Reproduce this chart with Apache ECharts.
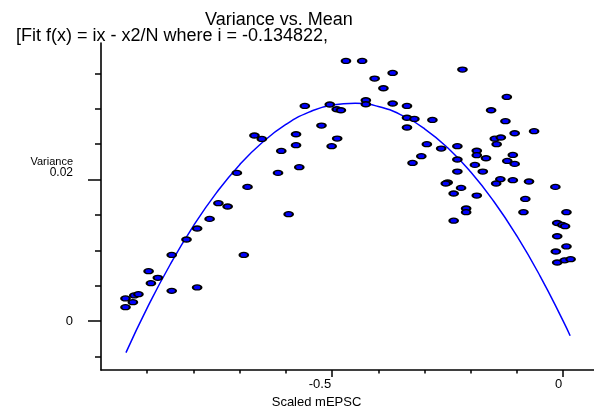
<!DOCTYPE html>
<html><head><meta charset="utf-8">
<script src="https://cdn.jsdelivr.net/npm/echarts@6/dist/echarts.min.js"></script>
<style>html,body{margin:0;padding:0;background:#fff}#c{width:594px;height:414px}</style>
</head><body><div id="c"></div>
<script>
const titleText = 'Variance vs. Mean';
const subtitleText = '[Fit f(x) = ix - x2/N where i = -0.134822,';
const xAxisName = 'Scaled mEPSC';
const yAxisName = 'Variance';

const meanValues = [
 -0.947, -0.928, -0.919, -0.931, -0.947, -0.897, -0.877, -0.892, -0.847, -0.847, -0.792, -0.815, -0.792, -0.765, -0.746, -0.726, -0.691, -0.683, -0.706, -0.617, -0.594,
 -0.668, -0.652, -0.610, -0.578, -0.578, -0.571, -0.559, -0.523, -0.505, -0.490, -0.481, -0.489, -0.501, -0.470, -0.435, -0.408, -0.389, -0.369, -0.427, -0.427, -0.369,
 -0.338, -0.338, -0.322, -0.283, -0.338, -0.218, -0.122, -0.156, -0.125, -0.105, -0.063, -0.148, -0.135, -0.144,
 -0.295, -0.264, -0.229, -0.307, -0.326, -0.229, -0.187, -0.187, -0.167, -0.109, -0.121, -0.105, -0.191,
 -0.229, -0.174, -0.136, -0.145, -0.109, -0.074, -0.017, -0.250, -0.254, -0.221, -0.237, -0.187, -0.082, -0.210, -0.210, -0.086, 0.007, -0.237,
 -0.013, -0.002, 0.004, -0.013, 0.007, -0.016, -0.013, 0.003, 0.016
];
const varianceValues = [
 0.00321, 0.00363, 0.00381, 0.00268, 0.00198, 0.00706, 0.00612, 0.00537, 0.00936, 0.00428, 0.00476, 0.01154, 0.01309, 0.01445, 0.01667, 0.0162, 0.00936, 0.01897, 0.02095, 0.02095, 0.01511,
 0.02623, 0.02575, 0.02405, 0.02641, 0.02486, 0.02175, 0.03041, 0.02764, 0.03061, 0.02994, 0.0298, 0.0258, 0.02472, 0.03677, 0.03677, 0.03428, 0.03291, 0.03507, 0.03121, 0.03065, 0.03075,
 0.03041, 0.02874, 0.02857, 0.02843, 0.02736, 0.03555, 0.03168, 0.0298, 0.02825, 0.02655, 0.02684, 0.02578, 0.02595, 0.025,
 0.025, 0.02439, 0.02472, 0.02331, 0.02236, 0.02284, 0.02408, 0.02345, 0.02302, 0.02349, 0.02264, 0.02222, 0.02208,
 0.02114, 0.02114, 0.02006, 0.01945, 0.01992, 0.01973, 0.01897, 0.01959, 0.01945, 0.01883, 0.01804, 0.01775, 0.01727, 0.01592, 0.0154, 0.0154, 0.0154, 0.0142,
 0.01387, 0.0136, 0.01342, 0.012, 0.01056, 0.00984, 0.00829, 0.00859, 0.00876
];

const fitMean = [-0.946, -0.9, -0.85, -0.8, -0.75, -0.7, -0.65, -0.6, -0.55, -0.5, -0.45, -0.4, -0.35, -0.3, -0.25, -0.2, -0.15, -0.1, -0.05, 0, 0.015];
const fitVariance = [-0.00445, 0.00187, 0.00804, 0.01346, 0.01816, 0.02211, 0.02531, 0.02779, 0.02953, 0.03054, 0.0308, 0.03033, 0.02912, 0.02718, 0.02449, 0.02106, 0.0169, 0.01201, 0.00637, 0, -0.00206];

const xMinorTicks = [-0.9, -0.8, -0.7, -0.6, -0.4, -0.3, -0.2, -0.1];
const xMajorTicks = [-0.5, 0];
const yMinorTicks = [-0.005, 0.005, 0.01, 0.015, 0.025, 0.03, 0.035];
const yZeroTick = [0];
const yLabelledTick = [0.02];

const FONT = '"Liberation Sans", Arial, sans-serif';
const X_MIN = -1.0, X_MAX = 0.0666, Y_MIN = -0.0069, Y_MAX = 0.0393;
const black = '#000';

const chart = echarts.init(document.getElementById('c'), null, {renderer: 'canvas'});

function xAxisBase(extra) {
  return Object.assign({
    type: 'value', position: 'bottom', min: X_MIN, max: X_MAX,
    splitLine: {show: false}, axisLine: {show: false, onZero: false},
    axisTick: {show: false}, axisLabel: {show: false}
  }, extra);
}
function yAxisBase(extra) {
  return Object.assign({
    type: 'value', position: 'left', min: Y_MIN, max: Y_MAX,
    splitLine: {show: false}, axisLine: {show: false, onZero: false},
    axisTick: {show: false}, axisLabel: {show: false}
  }, extra);
}

chart.setOption({
  animation: false,
  backgroundColor: '#fff',
  textStyle: {fontFamily: FONT},
  title: [
    {text: titleText, left: 205, top: 11, padding: 0,
     textStyle: {fontFamily: FONT, fontSize: 18, fontWeight: 'normal', color: black}},
    {text: subtitleText, left: 16, top: 27, padding: 0,
     textStyle: {fontFamily: FONT, fontSize: 18, fontWeight: 'normal', color: black}}
  ],
  grid: {left: 101, right: 0, top: 43, bottom: 44, containLabel: false},
  xAxis: [
    xAxisBase({
      axisLine: {show: true, onZero: false, lineStyle: {color: black, width: 1.6}},
      axisTick: {show: true, customValues: xMinorTicks, length: 3.5, lineStyle: {color: black, width: 1.5}}
    }),
    xAxisBase({
      axisTick: {show: true, customValues: xMajorTicks, length: 7, lineStyle: {color: black, width: 1.5}},
      axisLabel: {show: true, customValues: xMajorTicks, align: 'right', margin: 8, padding: [0, 1, 0, 0],
                  fontFamily: FONT, fontSize: 13, color: black},
      name: xAxisName, nameLocation: 'middle', nameGap: 24,
      nameTextStyle: {fontFamily: FONT, fontSize: 13, color: black, padding: [0, 62, 0, 0]}
    })
  ],
  yAxis: [
    yAxisBase({
      axisLine: {show: true, onZero: false, lineStyle: {color: black, width: 1.6}},
      axisTick: {show: true, customValues: yMinorTicks, length: 6, lineStyle: {color: black, width: 1.5}}
    }),
    yAxisBase({
      axisTick: {show: true, customValues: yZeroTick.concat(yLabelledTick), length: 13, lineStyle: {color: black, width: 1.5}},
      axisLabel: {show: true, customValues: yZeroTick, margin: 28, fontFamily: FONT, fontSize: 13, color: black}
    }),
    yAxisBase({
      axisLabel: {show: true, customValues: yLabelledTick, margin: 28, verticalAlign: 'bottom',
        formatter: v => '{a|' + yAxisName + '}\n{b|' + v + '}',
        rich: {
          a: {fontFamily: FONT, fontSize: 11, lineHeight: 9, color: black, align: 'right'},
          b: {fontFamily: FONT, fontSize: 12, lineHeight: 13, color: black, align: 'right'}
        }}
    })
  ],
  series: [
    {
      type: 'line', xAxisIndex: 0, yAxisIndex: 0, z: 2,
      data: fitMean.map((m, k) => [m, fitVariance[k]]),
      showSymbol: false, smooth: true,
      lineStyle: {color: '#0000ff', width: 1.5}
    },
    {
      type: 'scatter', xAxisIndex: 0, yAxisIndex: 0, z: 3,
      data: meanValues.map((m, k) => [m, varianceValues[k]]),
      symbol: 'circle', symbolSize: [8.5, 5],
      itemStyle: {color: '#0000ff', borderColor: black, borderWidth: 1.7, opacity: 1}
    }
  ]
});
</script>
</body></html>
